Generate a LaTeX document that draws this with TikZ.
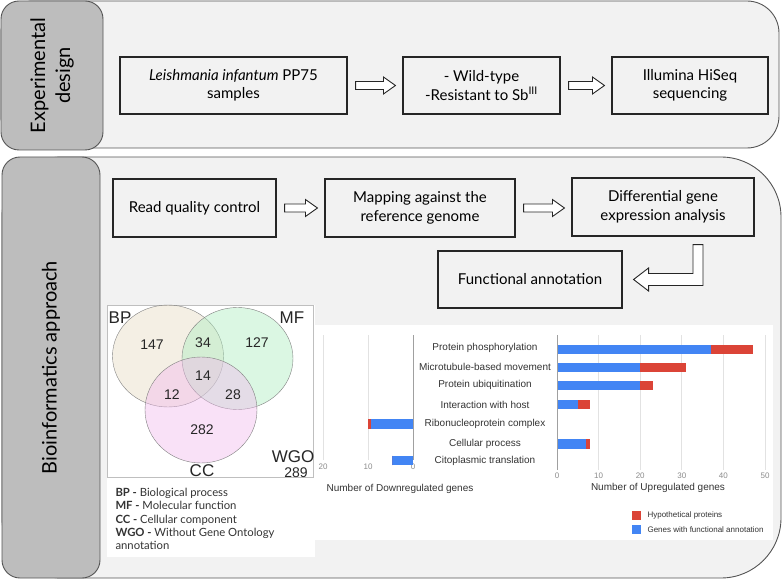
\documentclass[tikz,border=0pt]{standalone}
\usepackage{fontspec}
\setmainfont{Lato}
\newfontfamily\arial{Liberation Sans}
\usepackage{tikz}
\usetikzlibrary{calc}
\definecolor{fondo}{RGB}{242,242,242}
\definecolor{gris}{RGB}{189,189,189}
\definecolor{borde}{RGB}{85,85,85}
\definecolor{azul}{RGB}{66,133,244}
\definecolor{rojo}{RGB}{219,68,55}
\definecolor{rejilla}{RGB}{226,226,226}
\definecolor{eje}{RGB}{160,160,160}
\definecolor{textograf}{RGB}{51,51,51}
\definecolor{bpcol}{RGB}{230,218,192}
\definecolor{mfcol}{RGB}{170,238,190}
\definecolor{cccol}{RGB}{242,184,238}

\newcommand{\flechahueca}[2]{%
  \draw[hueca] let \p1=($(#1.east)+(8pt,0)$), \p2=($(#2.west)+(-7pt,0)$) in
    (\x1,\y1+4pt) -- (\x2-12pt,\y1+4pt) -- (\x2-12pt,\y1+8.5pt) -- (\x2,\y1)
    -- (\x2-12pt,\y1-8.5pt) -- (\x2-12pt,\y1-4pt) -- (\x1,\y1-4pt) -- cycle;}

\begin{document}
\begin{tikzpicture}[x=1pt,y=-1pt,
  panel/.style={draw=borde, fill=fondo, line width=0.9pt},
  seccion/.style={draw=borde, fill=gris, line width=0.9pt, rounded corners=18pt,
                  rotate=90, align=center, font=\fontsize{20}{25}\selectfont},
  etapa/.style={draw=black!85, line width=1.1pt, align=center, inner sep=2pt,
                font=\fontsize{15}{18.5}\selectfont},
  hueca/.style={draw=black!85, fill=white, line width=0.9pt, line join=miter},
  conj/.style={font=\arial\fontsize{17}{17}\selectfont, text=black!85},
  num/.style={font=\arial\fontsize{14}{14}\selectfont, text=black!85},
  cat/.style={font=\arial\fontsize{10}{10}\selectfont, text=textograf},
  valor/.style={font=\arial\fontsize{8}{8}\selectfont, text=black!45},
  leyg/.style={font=\arial\fontsize{8}{8}\selectfont, text=textograf, anchor=west}]
  \useasboundingbox (0,0) rectangle (784,580);
  % panels
  \draw[panel, rounded corners=32pt] (1,1) rectangle (779,148);
  \draw[panel, rounded corners=60pt] (2,157) rectangle (781,578);
  \node[seccion, minimum width=149, minimum height=102] (sdis) at (52,75.5)
    {Experimental\\design};
  \node[seccion, minimum width=421, minimum height=98] (sbio) at (51,367.5)
    {Bioinformatics approach};
  % experimental design
  \node[etapa, minimum width=227, minimum height=57] (lei) at (233.5,85.5)
    {\textit{Leishmania infantum} PP75\\samples};
  \node[etapa, minimum width=157, minimum height=57] (cep) at (481.5,85.5)
    {- Wild-type\\-Resistant to Sb\textsuperscript{III}};
  \node[etapa, minimum width=156, minimum height=57] (sec) at (690,85.5)
    {Illumina HiSeq\\sequencing};
  \flechahueca{lei}{cep}
  \flechahueca{cep}{sec}
  % bioinformatics approach
  \node[etapa, minimum width=163, minimum height=58] (cal) at (194.5,208)
    {Read quality control};
  \node[etapa, minimum width=190, minimum height=58] (map) at (420,208)
    {Mapping against the\\reference genome};
  \node[etapa, minimum width=182, minimum height=58] (dif) at (663,207)
    {Differential gene\\expression analysis};
  \node[etapa, minimum width=184, minimum height=57] (fun) at (530,279.5)
    {Functional annotation};
  \flechahueca{cal}{map}
  \flechahueca{map}{dif}
  \draw[hueca] let \p1=($(fun.east)+(11pt,0)$), \p2=($(dif.south)+(35pt,-8pt)$) in
    (\x1,\y1) -- (\x1+15pt,\y1+11.5pt) -- (\x1+15pt,\y1+6pt) -- (\x2-5pt,\y1+6pt)
    -- (\x2-5pt,\y2) -- (\x2+5pt,\y2) -- (\x2+5pt,\y1-6pt) -- (\x1+15pt,\y1-6pt)
    -- (\x1+15pt,\y1-11.5pt) -- cycle;
  % venn
  \fill[white] (107,305) rectangle (315,557);
  \draw[black!25, line width=0.6pt] (107,305) rectangle (313,477);
  \draw[black!50, fill=bpcol, fill opacity=0.42] (168,356) ellipse [x radius=55.5pt, y radius=51pt];
  \draw[black!50, fill=mfcol, fill opacity=0.42] (237.5,358.5) ellipse [x radius=55.5pt, y radius=51pt];
  \draw[black!50, fill=cccol, fill opacity=0.42] (201,410) ellipse [x radius=56pt, y radius=53pt];
  \node[conj] (bp) at (120,318) {BP};
  \node[conj] (mf) at (292,318) {MF};
  \node[conj] (cc) at (202,471) {CC};
  \node[conj] (wgo) at (293,457) {WGO};
  \node[num] (nwgo) at (296,472.5) {289};
  \foreach \xx/\yy/\n [count=\i] in {152/345/147, 203/343/34, 257/343/127, 203/376/14,
      172/395/12, 233/395/28, 202/430/282}
    \node[num] (n\i) at (\xx,\yy) {\n};
  \node[anchor=north west, align=left, font=\fontsize{11.3}{13.1}\selectfont, text=black!80]
    (clave) at (112,485)
    {\textbf{BP -} Biological process\\
     \textbf{MF -} Molecular function\\
     \textbf{CC -} Cellular component\\
     \textbf{WGO -} Without Gene Ontology\\
     annotation};
  % bar chart
  \fill[white] (315,325) rectangle (773,540);
  \foreach \v in {10,20}
    \draw[rejilla, line width=0.8pt] ({413-4.5*\v},335) -- ({413-4.5*\v},460);
  \foreach \v in {10,20,...,50}
    \draw[rejilla, line width=0.8pt] ({557+4.16*\v},335) -- ({557+4.16*\v},470);
  \foreach \v in {0,10,20}
    \node[valor] (vd\v) at ({413-4.5*\v},467) {\v};
  \foreach \v in {0,10,20,...,50}
    \node[valor] (vu\v) at ({557+4.16*\v},476) {\v};
  \foreach \yy/\a/\b in {424/9.3/10, 460.5/4.6/4.6} {
    \fill[azul] (413,\yy-4.9) rectangle ({413-4.5*\a},\yy+4.9);
    \fill[rojo] ({413-4.5*\a},\yy-4.9) rectangle ({413-4.5*\b},\yy+4.9);}
  \foreach \yy/\a/\b in {349.5/37/47, 367.5/20/31, 385.5/20/23, 404.5/5/8, 444/7/8} {
    \fill[azul] (557,\yy-4.75) rectangle ({557+4.16*\a},\yy+4.75);
    \fill[rojo] ({557+4.16*\a},\yy-4.75) rectangle ({557+4.16*\b},\yy+4.75);}
  \draw[eje, line width=1pt] (413,335) -- (413,460);
  \draw[eje, line width=1pt] (557,335) -- (557,470);
  \foreach \yy/\txt [count=\i] in {348/Protein phosphorylation, 367/Microtubule-based movement,
      385/Protein ubiquitination, 405/Interaction with host,
      424/Ribonucleoprotein complex, 444/Cellular process, 461/Citoplasmic translation}
    \node[cat] (c\i) at (485,\yy) {\txt};
  \node[cat] (tdown) at (400,489) {Number of Downregulated genes};
  \node[cat] (tup) at (658,488) {Number of Upregulated genes};
  \fill[rojo] (632,511) rectangle (641,520);
  \node[leyg] (lhip) at (644,515.5) {Hypothetical proteins};
  \fill[azul] (632,525) rectangle (641,534);
  \node[leyg] (lfun) at (644,529.5) {Genes with functional annotation};
\end{tikzpicture}
\end{document}
